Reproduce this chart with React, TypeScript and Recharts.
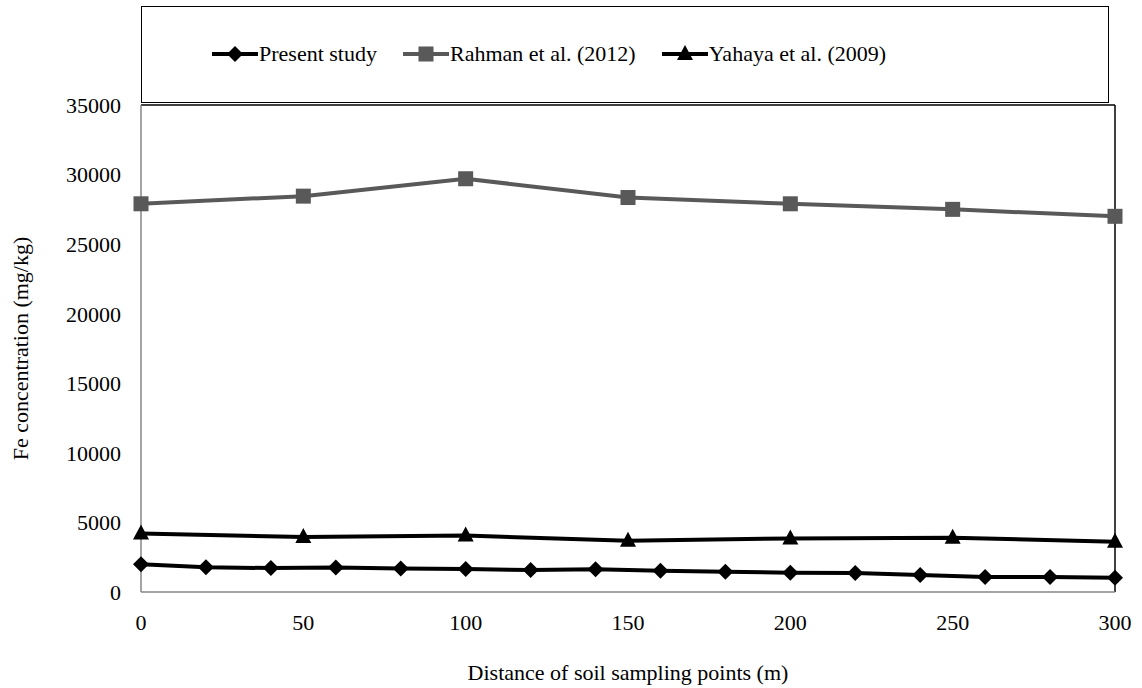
import React from 'react';
import { LineChart, Line, XAxis, YAxis, ReferenceLine } from 'recharts';

// distance (m) of each sampling point
const presentDistance = [0, 20, 40, 60, 80, 100, 120, 140, 160, 180, 200, 220, 240, 260, 280, 300];
const presentFe = [2000, 1780, 1720, 1760, 1690, 1650, 1580, 1640, 1520, 1450, 1390, 1370, 1220, 1080, 1070, 1030];

const literatureDistance = [0, 50, 100, 150, 200, 250, 300];
const rahmanFe = [27900, 28450, 29700, 28350, 27900, 27500, 27000];
const yahayaFe = [4200, 3960, 4060, 3680, 3850, 3900, 3620];

const xTicks = [0, 50, 100, 150, 200, 250, 300];
const yTicks = [0, 5000, 10000, 15000, 20000, 25000, 30000, 35000];

const seriesNames = ['Present study', 'Rahman et al. (2012)', 'Yahaya et al. (2009)'];
const seriesColors = ['#000000', '#595959', '#000000'];

const FONT = '"Liberation Serif", "Times New Roman", serif';

const presentData = presentDistance.map((x, i) => ({ x, fe: presentFe[i] }));
const rahmanData = literatureDistance.map((x, i) => ({ x, fe: rahmanFe[i] }));
const yahayaData = literatureDistance.map((x, i) => ({ x, fe: yahayaFe[i] }));

type Shape = 'diamond' | 'square' | 'triangle';
const shapes: Shape[] = ['diamond', 'square', 'triangle'];

function Marker({ cx, cy, shape, color }: { cx: number; cy: number; shape: Shape; color: string }) {
  if (shape === 'diamond') {
    const r = 8;
    return <polygon points={`${cx},${cy - r} ${cx + r},${cy} ${cx},${cy + r} ${cx - r},${cy}`} fill={color} />;
  }
  if (shape === 'square') {
    return <rect x={cx - 7.5} y={cy - 7.5} width={15} height={15} fill={color} />;
  }
  return <polygon points={`${cx},${cy - 9} ${cx + 8},${cy + 6} ${cx - 8},${cy + 6}`} fill={color} />;
}

const makeDot = (shape: Shape, color: string) => (props: any) => {
  const { cx, cy, index } = props;
  if (cx == null || cy == null) return <g key={index} />;
  return <Marker key={index} cx={cx} cy={cy} shape={shape} color={color} />;
};

function LegendBox() {
  return (
    <div
      style={{
        position: 'absolute',
        left: 141,
        top: 6,
        width: 968,
        height: 97,
        border: '1.5px solid #000',
        display: 'flex',
        alignItems: 'center',
        justifyContent: 'flex-start',
        paddingLeft: 70,
        paddingBottom: 2,
        gap: 26,
        fontFamily: FONT,
        fontSize: 22,
        boxSizing: 'border-box',
      }}
    >
      {seriesNames.map((name, i) => (
        <div key={name} style={{ display: 'flex', alignItems: 'center' }}>
          <svg width={46} height={20}>
            <line x1={0} y1={10} x2={46} y2={10} stroke={seriesColors[i]} strokeWidth={4} />
            <Marker cx={23} cy={10} shape={shapes[i]} color={seriesColors[i]} />
          </svg>
          <span style={{ marginLeft: 1 }}>{name}</span>
        </div>
      ))}
    </div>
  );
}

export default function App() {
  const tickStyle = { fontSize: 22, fill: '#000', fontFamily: FONT };
  return (
    <div style={{ position: 'relative', width: 1142, height: 688, background: '#fff', fontFamily: FONT }}>
      <style>{`body{margin:0} svg text, svg tspan{font-family:"Liberation Serif", "Times New Roman", serif !important;}`}</style>
      <LineChart
        width={1142}
        height={688}
        margin={{ top: 105, right: 27, bottom: 66, left: 0 }}
        style={{ fontFamily: FONT }}
      >
        <XAxis
          dataKey="x"
          type="number"
          domain={[0, 300]}
          ticks={xTicks}
          allowDuplicatedCategory={false}
          height={30}
          tickLine={false}
          tickMargin={16}
          axisLine={{ stroke: '#868686', strokeWidth: 1.5 }}
          tick={tickStyle}
          label={{
            value: 'Distance of soil sampling points (m)',
            position: 'bottom',
            offset: 42,
            style: { fontSize: 22, fill: '#000', fontFamily: FONT },
          }}
        />
        <YAxis
          dataKey="fe"
          type="number"
          domain={[0, 35000]}
          ticks={yTicks}
          width={141}
          tickLine={false}
          tickMargin={14}
          axisLine={{ stroke: '#868686', strokeWidth: 1.5 }}
          tick={tickStyle}
          label={{
            value: 'Fe concentration (mg/kg)',
            angle: -90,
            position: 'insideLeft',
            offset: 20,
            style: { fontSize: 22, fill: '#000', textAnchor: 'middle', fontFamily: FONT },
          }}
        />
        <ReferenceLine y={35000} stroke="#000" strokeWidth={1.5} />
        <ReferenceLine x={300} stroke="#000" strokeWidth={1.5} />
        <Line
          data={rahmanData}
          dataKey="fe"
          name={seriesNames[1]}
          stroke={seriesColors[1]}
          strokeWidth={4}
          dot={makeDot('square', seriesColors[1])}
          isAnimationActive={false}
        />
        <Line
          data={yahayaData}
          dataKey="fe"
          name={seriesNames[2]}
          stroke={seriesColors[2]}
          strokeWidth={4}
          dot={makeDot('triangle', seriesColors[2])}
          isAnimationActive={false}
        />
        <Line
          data={presentData}
          dataKey="fe"
          name={seriesNames[0]}
          stroke={seriesColors[0]}
          strokeWidth={4}
          dot={makeDot('diamond', seriesColors[0])}
          isAnimationActive={false}
        />
      </LineChart>
      <LegendBox />
    </div>
  );
}
